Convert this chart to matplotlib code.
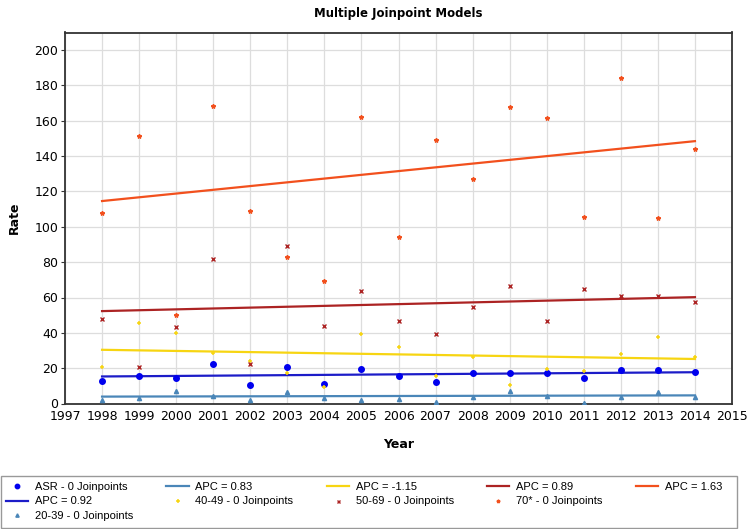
import matplotlib
matplotlib.use("Agg")
import matplotlib.pyplot as plt
from matplotlib.lines import Line2D
from matplotlib.patches import Rectangle

#==============================================================================
# Data
#==============================================================================
years = [1998, 1999, 2000, 2001, 2002, 2003, 2004, 2005, 2006,
         2007, 2008, 2009, 2010, 2011, 2012, 2013, 2014]

asr = [13.0, 15.3, 14.3, 22.1, 10.4, 20.6, 10.9, 19.8, 15.3,
       12.1, 17.3, 17.3, 17.0, 14.5, 18.9, 18.9, 17.7]
age_20_39 = [1.9, 3.2, 6.8, 4.5, 1.9, 6.4, 3.0, 1.7, 2.8,
             0.6, 3.8, 7.1, 4.5, 0.2, 3.6, 6.6, 3.4]
age_40_49 = [20.4, 45.7, 39.8, 28.5, 24.1, 17.1, 9.2, 39.4, 31.7,
             15.6, 26.6, 10.2, 19.6, 18.5, 28.3, 37.9, 26.2]
age_50_69 = [48.1, 20.7, 43.4, 81.7, 22.4, 88.9, 43.6, 63.4, 46.8,
             39.4, 54.5, 66.4, 46.6, 64.7, 60.8, 60.8, 57.5]
age_70 = [107.9, 151.4, 50.0, 168.5, 108.9, 83.2, 69.1, 162.3, 94.2,
          148.9, 126.8, 167.6, 161.7, 105.5, 184.2, 105.1, 144.2]

# fitted joinpoint lines (0 joinpoints) : value at first and last year
fit_years = [1998, 2014]
fit_asr = [15.3, 17.7]
fit_20_39 = [3.9, 4.6]
fit_40_49 = [30.4, 25.2]
fit_50_69 = [52.3, 60.2]
fit_70 = [114.6, 148.5]

apc_labels = ["APC = 0.92", "APC = 0.83", "APC = -1.15", "APC = 0.89", "APC = 1.63"]

x_ticks = list(range(1997, 2016))
y_ticks = list(range(0, 201, 20))

#==============================================================================
# Figure
#==============================================================================
c_asr = "#0000ee"
c_asr_line = "#1c1cc8"
c_2039 = "#4a86b8"
c_4049 = "#f7d512"
c_5069 = "#ac2323"
c_70 = "#f2501d"

fig = plt.figure(figsize=(7.47, 5.29), dpi=100)
ax = fig.add_axes([65 / 747, 1 - 403.5 / 529, 667 / 747, 371 / 529])

# lines
l_asr, = ax.plot(fit_years, fit_asr, color=c_asr_line, lw=1.6, zorder=3)
l_2039, = ax.plot(fit_years, fit_20_39, color=c_2039, lw=1.6, zorder=3)
l_4049, = ax.plot(fit_years, fit_40_49, color=c_4049, lw=1.6, zorder=3)
l_5069, = ax.plot(fit_years, fit_50_69, color=c_5069, lw=1.6, zorder=3)
l_70, = ax.plot(fit_years, fit_70, color=c_70, lw=1.6, zorder=3)

# points
p_asr, = ax.plot(years, asr, 'o', color=c_asr, ms=4.0, ls='none', zorder=4)
p_2039, = ax.plot(years, age_20_39, '^', color=c_2039, ms=3.0, ls='none', zorder=4)
p_4049, = ax.plot(years, age_40_49, '+', color=c_4049, ms=3.4, mew=1.1, ls='none', zorder=4)
p_5069, = ax.plot(years, age_50_69, 'x', color=c_5069, ms=2.7, mew=1.0, ls='none', zorder=4)
p_70, = ax.plot(years, age_70, '*', color=c_70, ms=3.2, ls='none', zorder=4)

ax.set_xlim(1997, 2015)
ax.set_ylim(0, 210)
ax.set_xticks(x_ticks)
ax.set_yticks(y_ticks)
ax.tick_params(axis='both', labelsize=9, length=3, color='#333333', pad=2)
ax.tick_params(axis='x', length=0, pad=5)
ax.grid(True, color='#dddddd', lw=0.9)
ax.set_axisbelow(True)
for s in ax.spines.values():
    s.set_color('#333333')
    s.set_linewidth(1.3)

ax.set_title("Multiple Joinpoint Models", fontsize=8.5, fontweight='bold', pad=11)
ax.set_xlabel("Year", fontsize=9, fontweight='bold')
ax.set_ylabel("Rate", fontsize=9, fontweight='bold')
ax.xaxis.set_label_coords(0.5, -0.092)
ax.yaxis.set_label_coords(-0.066, 0.5)

# legend box drawn separately so the columns keep their natural spacing
fig.patches.append(Rectangle((1 / 747, 1 - 528 / 529), 736 / 747, 52 / 529,
                             transform=fig.transFigure, fill=False,
                             edgecolor='#999999', lw=1.0))

# legend (row-major order like the original, blanks fill the grid)
blank = Line2D([], [], ls='none')
handles = [p_asr, l_asr, p_2039,
           l_2039, p_4049, blank,
           l_4049, p_5069, blank,
           l_5069, p_70, blank,
           l_70, blank, blank]
labels = ["ASR - 0 Joinpoints", apc_labels[0], "20-39 - 0 Joinpoints",
          apc_labels[1], "40-49 - 0 Joinpoints", "",
          apc_labels[2], "50-69 - 0 Joinpoints", "",
          apc_labels[3], "70* - 0 Joinpoints", "",
          apc_labels[4], "", ""]
leg = fig.legend(handles, labels, ncol=5, loc='upper left',
                 bbox_to_anchor=(6 / 747, 1 - 482 / 529),
                 frameon=False,
                 prop={'family': 'Liberation Sans', 'size': 8},
                 handlelength=2.0, handletextpad=0.6, labelspacing=0.4,
                 columnspacing=3.0, borderpad=0, borderaxespad=0,
                 markerscale=0.8)

fig.savefig("out.png", dpi=100)
